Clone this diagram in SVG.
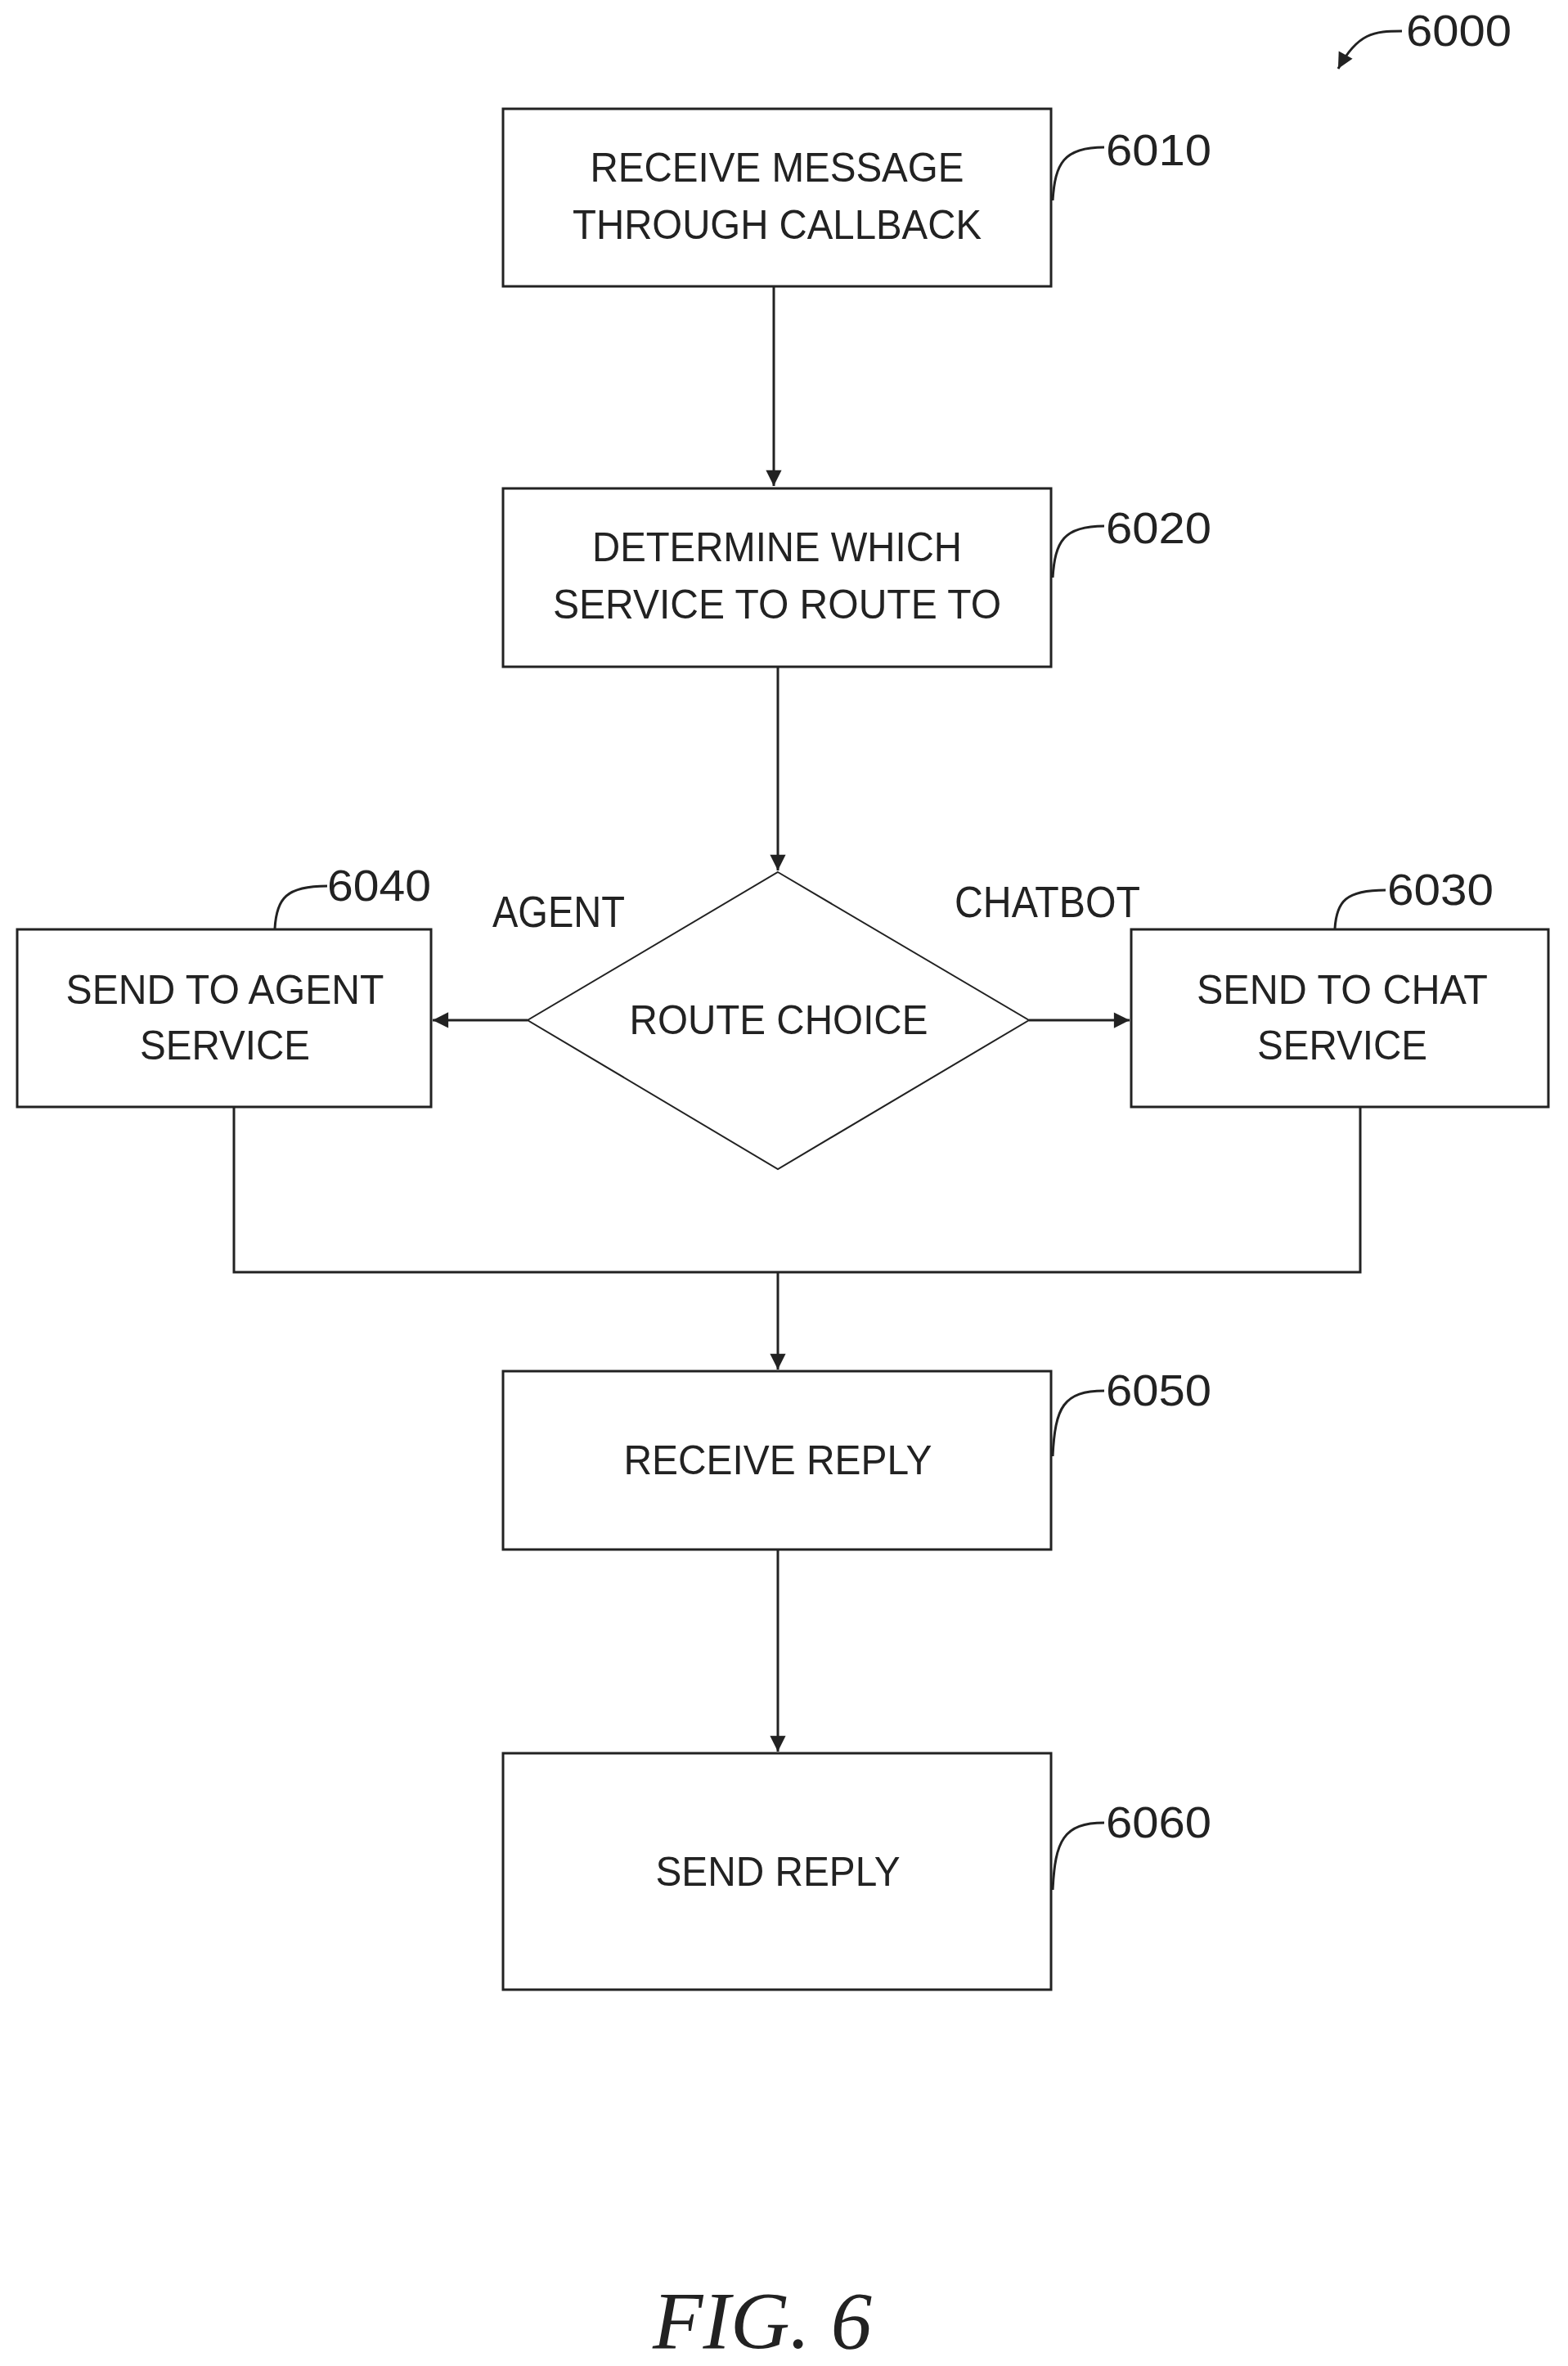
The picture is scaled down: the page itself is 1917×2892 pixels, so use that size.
<svg xmlns="http://www.w3.org/2000/svg" width="1917" height="2892" viewBox="0 0 1917 2892">
<style>
.box{fill:#fff;stroke:#222;stroke-width:3}
.t{font-family:"Liberation Sans",Arial,sans-serif;font-size:50px;fill:#222;text-anchor:middle}
.n{font-family:"Liberation Sans",Arial,sans-serif;font-size:54px;fill:#222}
.c{fill:none;stroke:#222;stroke-width:3}
</style>
<defs>
<marker id="ah" viewBox="0 0 10 10" refX="10" refY="5" markerWidth="8" markerHeight="8" orient="auto" markerUnits="userSpaceOnUse" style="overflow:visible">
<path d="M0,0 L10,5 L0,10 z" fill="#222" transform="scale(2.4) translate(-5.8,-2.9)"/>
</marker>
</defs>
<rect width="1917" height="2892" fill="#fff"/>
<g id="connectors">
<path class="c" d="M946,350 V594" marker-end="url(#ah)"/>
<path class="c" d="M951,815 V1064" marker-end="url(#ah)"/>
<path class="c" d="M645,1247 H529" marker-end="url(#ah)"/>
<path class="c" d="M1258,1247 H1381" marker-end="url(#ah)"/>
<path class="c" d="M286,1353 V1555 H1663 V1353"/>
<path class="c" d="M951,1555 V1674" marker-end="url(#ah)"/>
<path class="c" d="M951,1894 V2141" marker-end="url(#ah)"/>
<text class="n" x="602" y="1133" textLength="162" lengthAdjust="spacingAndGlyphs">AGENT</text>
<text class="n" x="1167" y="1121" textLength="227" lengthAdjust="spacingAndGlyphs">CHATBOT</text>
</g>
<g id="n6000">
<text class="n" x="1719" y="56" textLength="129" lengthAdjust="spacingAndGlyphs">6000</text>
<path class="c" d="M1714,38 C1680,38 1660,40 1636,84" marker-end="url(#ah)"/>
</g>
<g id="n6010">
<rect class="box" x="615" y="133" width="670" height="217"/>
<text class="t" x="950" y="222" textLength="457" lengthAdjust="spacingAndGlyphs">RECEIVE MESSAGE</text>
<text class="t" x="950" y="292" textLength="500" lengthAdjust="spacingAndGlyphs">THROUGH CALLBACK</text>
<path class="c" d="M1287,245 C1290,200 1300,180 1350,180"/>
<text class="n" x="1352" y="202" textLength="129" lengthAdjust="spacingAndGlyphs">6010</text>
</g>
<g id="n6020">
<rect class="box" x="615" y="597" width="670" height="218"/>
<text class="t" x="950" y="686" textLength="452" lengthAdjust="spacingAndGlyphs">DETERMINE WHICH</text>
<text class="t" x="950" y="756" textLength="548" lengthAdjust="spacingAndGlyphs">SERVICE TO ROUTE TO</text>
<path class="c" d="M1287,706 C1290,662 1300,643 1350,643"/>
<text class="n" x="1352" y="664" textLength="129" lengthAdjust="spacingAndGlyphs">6020</text>
</g>
<g id="route">
<path d="M951,1066 L1258,1247 L951,1429 L645,1247 Z" fill="#fff" stroke="#222" stroke-width="2"/>
<text class="t" x="952" y="1264" textLength="365" lengthAdjust="spacingAndGlyphs">ROUTE CHOICE</text>
</g>
<g id="n6040">
<rect class="box" x="21" y="1136" width="506" height="217"/>
<text class="t" x="275" y="1227" textLength="389" lengthAdjust="spacingAndGlyphs">SEND TO AGENT</text>
<text class="t" x="275" y="1295" textLength="208" lengthAdjust="spacingAndGlyphs">SERVICE</text>
<path class="c" d="M336,1135 C338,1098 350,1083 400,1083"/>
<text class="n" x="400" y="1101" textLength="127" lengthAdjust="spacingAndGlyphs">6040</text>
</g>
<g id="n6030">
<rect class="box" x="1383" y="1136" width="510" height="217"/>
<text class="t" x="1641" y="1227" textLength="356" lengthAdjust="spacingAndGlyphs">SEND TO CHAT</text>
<text class="t" x="1641" y="1295" textLength="208" lengthAdjust="spacingAndGlyphs">SERVICE</text>
<path class="c" d="M1632,1135 C1634,1102 1645,1088 1694,1088"/>
<text class="n" x="1696" y="1106" textLength="130" lengthAdjust="spacingAndGlyphs">6030</text>
</g>
<g id="n6050">
<rect class="box" x="615" y="1676" width="670" height="218"/>
<text class="t" x="951" y="1802" textLength="377" lengthAdjust="spacingAndGlyphs">RECEIVE REPLY</text>
<path class="c" d="M1287,1780 C1290,1720 1300,1700 1350,1700"/>
<text class="n" x="1352" y="1718" textLength="129" lengthAdjust="spacingAndGlyphs">6050</text>
</g>
<g id="n6060">
<rect class="box" x="615" y="2143" width="670" height="289"/>
<text class="t" x="951" y="2305" textLength="299" lengthAdjust="spacingAndGlyphs">SEND REPLY</text>
<path class="c" d="M1287,2310 C1290,2250 1300,2228 1350,2228"/>
<text class="n" x="1352" y="2246" textLength="129" lengthAdjust="spacingAndGlyphs">6060</text>
</g>
<text x="932" y="2870" font-family="Liberation Serif,'Times New Roman',serif" font-style="italic" font-size="100" fill="#222" text-anchor="middle" textLength="268" lengthAdjust="spacingAndGlyphs">FIG. 6</text>
</svg>
